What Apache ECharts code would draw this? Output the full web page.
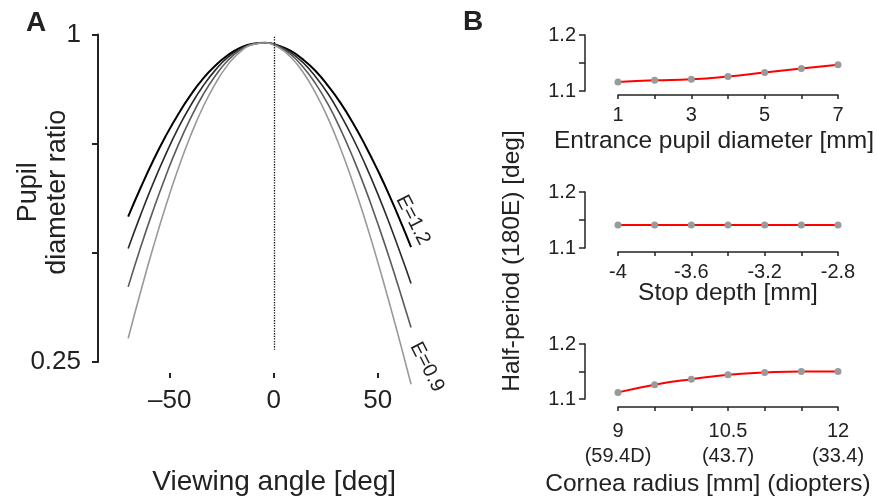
<!DOCTYPE html>
<html>
<head>
<meta charset="utf-8">
<script src="https://cdn.jsdelivr.net/npm/echarts@6/dist/echarts.min.js"></script>
<style>
	html, body { margin: 0; padding: 0; background: #fff; }
	#chart { width: 877px; height: 498px; }
</style>
</head>
<body>
<div id="chart"></div>
<script>
(function () {

	var FONT = '"Liberation Sans", Arial, Helvetica, sans-serif';
	var INK  = '#222';

	// panel A: pupil diameter ratio vs viewing angle
	var angles     = [-70, -64, -58, -52, -46, -40, -34, -28, -22, -16, -10, -4, 2, 8, 14, 20, 26, 32, 38, 44, 50, 56, 62, 66];
	var ratioE12   = [0.583, 0.649, 0.711, 0.767, 0.817, 0.861, 0.899, 0.929, 0.953, 0.970, 0.979, 0.981, 0.975, 0.963, 0.943, 0.917, 0.883, 0.844, 0.798, 0.746, 0.689, 0.627, 0.560, 0.513];
	var ratioE11   = [0.510, 0.587, 0.659, 0.725, 0.785, 0.837, 0.882, 0.919, 0.948, 0.967, 0.978, 0.981, 0.974, 0.959, 0.936, 0.904, 0.865, 0.817, 0.763, 0.702, 0.635, 0.562, 0.484, 0.430];
	var ratioE10   = [0.422, 0.513, 0.597, 0.675, 0.746, 0.808, 0.862, 0.906, 0.941, 0.965, 0.978, 0.981, 0.973, 0.955, 0.926, 0.888, 0.841, 0.784, 0.719, 0.647, 0.567, 0.482, 0.391, 0.329];
	var ratioE09   = [0.304, 0.411, 0.512, 0.606, 0.692, 0.768, 0.834, 0.888, 0.931, 0.961, 0.977, 0.981, 0.971, 0.949, 0.914, 0.867, 0.809, 0.740, 0.661, 0.574, 0.479, 0.378, 0.272, 0.199];
	var curveNames = ['E=1.2', 'E=1.1', 'E=1.0', 'E=0.9'];
	var angleTicks = [-50, 0, 50];
	var ratioLabels = [0.25, 1];

	// panel B: half-period vs parameters
	var pupilDiam        = [1, 2, 3, 4, 5, 6, 7];
	var halfPeriodPupil  = [1.116, 1.119, 1.121, 1.126, 1.133, 1.140, 1.147];
	var pupilTicks       = [1, 3, 5, 7];

	var stopDepth        = [-4, -3.8, -3.6, -3.4, -3.2, -3.0, -2.8];
	var halfPeriodStop   = [1.141, 1.141, 1.141, 1.141, 1.141, 1.141, 1.141];
	var stopTicks        = [-4, -3.6, -3.2, -2.8];

	var corneaRadius     = [9, 9.5, 10, 10.5, 11, 11.5, 12];
	var halfPeriodCornea = [1.112, 1.126, 1.136, 1.144, 1.148, 1.150, 1.150];
	var corneaTicks      = [9, 10.5, 12];
	var diopterLabels    = ['(59.4D)', '(43.7)', '(33.4)'];

	var halfPeriodLabels = [1.1, 1.2];

	function findTick(list, v) {
		for (var i = 0; i < list.length; i++) {
			if (Math.abs(list[i] - v) < 1e-6) return i;
		}
		return -1;
	}

	function pairs(xs, ys) {
		return xs.map(function (x, i) { return [x, ys[i]]; });
	}

	var chart = echarts.init(document.getElementById('chart'));

	var grids = [
		{ left: 98, top: 34.5, width: 322.4, height: 327.5, outerBoundsMode: 'none' },
		{ left: 618, top: 35, width: 220, height: 56, outerBoundsMode: 'none' },
		{ left: 618, top: 192, width: 220, height: 56, outerBoundsMode: 'none' },
		{ left: 618, top: 344, width: 220, height: 55, outerBoundsMode: 'none' }
	];

	function bX(idx, min, max, interval, offset, margin, labelFn, name, nameGap, namePad) {
		return {
			type: 'value', gridIndex: idx, min: min, max: max, interval: interval, offset: offset,
			axisLine: { show: true, onZero: false, lineStyle: { color: INK, width: 1.5 } },
			axisTick: { show: true, length: 4, lineStyle: { color: INK, width: 1.5 } },
			axisLabel: { margin: margin, color: INK, fontFamily: FONT, fontSize: 20, lineHeight: 25, formatter: labelFn },
			splitLine: { show: false },
			name: name, nameLocation: 'middle', nameGap: nameGap, nameMoveOverlap: false,
			nameTextStyle: { color: INK, fontFamily: FONT, fontSize: 24.5, padding: namePad }
		};
	}

	function bY(idx) {
		return {
			type: 'value', gridIndex: idx, min: 1.1, max: 1.2, interval: 0.05, offset: 33,
			axisLine: { show: true, onZero: false, lineStyle: { color: INK, width: 1.5 } },
			axisTick: { show: true, length: 6, lineStyle: { color: INK, width: 1.5 } },
			axisLabel: {
				margin: 9, color: INK, fontFamily: FONT, fontSize: 20,
				formatter: function (v) { return findTick(halfPeriodLabels, v) >= 0 ? v.toFixed(1) : ''; }
			},
			splitLine: { show: false }
		};
	}

	function bSeries(idx, xs, ys) {
		return {
			type: 'line', xAxisIndex: idx, yAxisIndex: idx, data: pairs(xs, ys),
			smooth: true, clip: false, symbol: 'circle', symbolSize: 7,
			itemStyle: { color: '#9a9a9a' },
			lineStyle: { color: '#ff0000', width: 2 }
		};
	}

	var curveColors = ['#000000', '#2a2a2a', '#5a5a5a', '#999999'];
	var curveData   = [ratioE12, ratioE11, ratioE10, ratioE09];

	var seriesA = curveData.map(function (ys, i) {
		var s = {
			name: curveNames[i], type: 'line', xAxisIndex: 0, yAxisIndex: 0,
			data: pairs(angles, ys), smooth: true, showSymbol: false, clip: false,
			lineStyle: { color: curveColors[i], width: i === 0 ? 2 : 1.6 }
		};
		if (i === 0) {
			s.markLine = {
				silent: true, symbol: 'none', label: { show: false },
				lineStyle: { color: '#111', type: 'dotted', width: 1.3 },
				data: [[{ coord: [0, 0.995] }, { coord: [0, 0.278] }]]
			};
		}
		return s;
	});

	chart.setOption({
		animation: false,
		textStyle: { fontFamily: FONT },
		grid: grids,
		xAxis: [
			{
				type: 'value', gridIndex: 0, min: -84.5, max: 70.5, offset: 11,
				axisLine: { show: false },
				axisTick: { show: true, length: 5, customValues: angleTicks, lineStyle: { color: INK, width: 2 } },
				axisLabel: {
					margin: 15, color: INK, fontFamily: FONT, fontSize: 26, customValues: angleTicks,
					formatter: function (v) { return String(v).replace('-', '\u2013'); }
				},
				splitLine: { show: false },
				name: 'Viewing angle [deg]', nameLocation: 'middle', nameGap: 95, nameMoveOverlap: false,
				nameTextStyle: { color: INK, fontFamily: FONT, fontSize: 28, padding: [0, 0, 0, 30] }
			},
			bX(1, 1, 7, 1, 4, 8, function (v) { return findTick(pupilTicks, v) >= 0 ? String(v) : ''; },
				'Entrance pupil diameter [mm]', 33.5, [0, 28, 0, 0]),
			bX(2, -4, -2.8, 0.2, 4, 8, function (v) {
				var k = findTick(stopTicks, v);
				return k >= 0 ? String(stopTicks[k]) : '';
			}, 'Stop depth [mm]', 28.5, [0, 0, 0, 0]),
			bX(3, 9, 12, 0.5, 8, 12, function (v) {
				var k = findTick(corneaTicks, v);
				return k >= 0 ? corneaTicks[k] + '\n' + diopterLabels[k] : '';
			}, 'Cornea radius [mm] (diopters)', 64.5, [0, 40, 0, 0])
		],
		yAxis: [
			{
				type: 'value', gridIndex: 0, min: 0.25, max: 1, interval: 0.25,
				axisLine: { show: true, onZero: false, lineStyle: { color: INK, width: 2 } },
				axisTick: { show: true, length: 6, lineStyle: { color: INK, width: 2 } },
				axisLabel: {
					margin: 17, color: INK, fontFamily: FONT, fontSize: 26,
					formatter: function (v) { return findTick(ratioLabels, v) >= 0 ? String(v) : ''; }
				},
				splitLine: { show: false },
				name: 'Pupil\ndiameter ratio', nameLocation: 'middle', nameGap: 26, nameMoveOverlap: false,
				nameTextStyle: { color: INK, fontFamily: FONT, fontSize: 27, lineHeight: 29, padding: [0, 0, 0, 12] }
			},
			bY(1), bY(2), bY(3)
		],
		graphic: [
			{ type: 'text', x: 26, y: 9, style: { text: 'A', font: 'bold 28px ' + FONT, fill: INK } },
			{ type: 'text', x: 463, y: 8, style: { text: 'B', font: 'bold 28px ' + FONT, fill: INK } },
			{ type: 'text', x: 413, y: 220, rotation: -63 * Math.PI / 180,
				style: { text: curveNames[0], font: '20px ' + FONT, fill: INK, textAlign: 'center', textVerticalAlign: 'middle' } },
			{ type: 'text', x: 427, y: 367, rotation: -63 * Math.PI / 180,
				style: { text: curveNames[3], font: '20px ' + FONT, fill: INK, textAlign: 'center', textVerticalAlign: 'middle' } },
			{ type: 'text', x: 512, y: 261, rotation: Math.PI / 2,
				style: { text: 'Half-period (180E) [deg]', font: '24.5px ' + FONT, fill: INK, textAlign: 'center', textVerticalAlign: 'middle' } }
		],
		series: seriesA.concat([
			bSeries(1, pupilDiam, halfPeriodPupil),
			bSeries(2, stopDepth, halfPeriodStop),
			bSeries(3, corneaRadius, halfPeriodCornea)
		])
	});

})();
</script>
</body>
</html>
